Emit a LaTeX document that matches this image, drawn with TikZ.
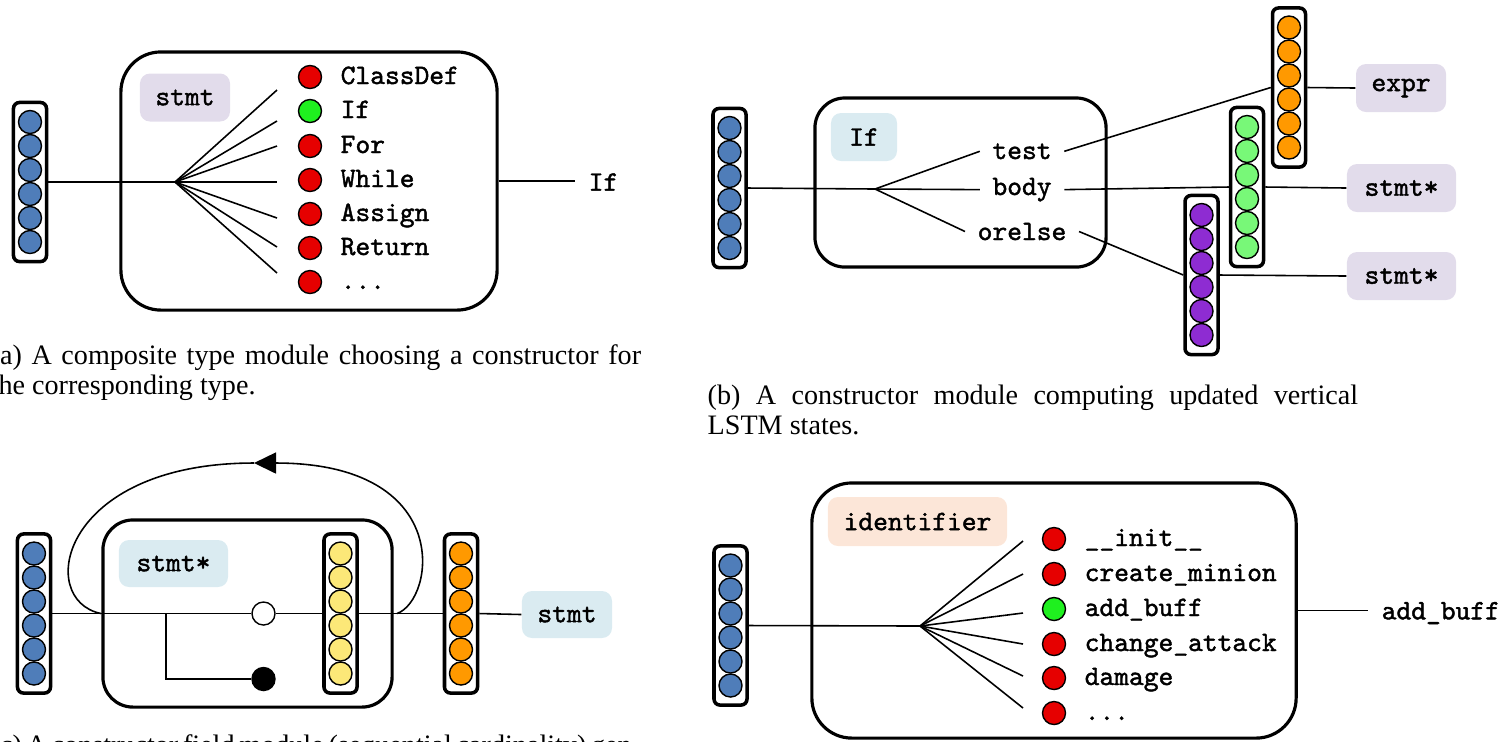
\documentclass[tikz,border=0pt]{standalone}
\usepackage{fontspec}
\setmainfont{Liberation Serif}
\newfontfamily\codefont{lmmono10-regular.otf}[FakeBold=1.5]
\usetikzlibrary{arrows.meta, positioning}

\definecolor{vblue}{HTML}{4F7DB9}
\definecolor{cred}{HTML}{E60000}
\definecolor{cgreen}{HTML}{1FF01F}
\definecolor{corange}{HTML}{FF9900}
\definecolor{clgreen}{HTML}{78F878}
\definecolor{cpurple}{HTML}{8E2CD2}
\definecolor{cyellow}{HTML}{FCE878}
\definecolor{taglav}{HTML}{E2DCEB}
\definecolor{tagblue}{HTML}{DAEBF1}
\definecolor{tagpeach}{HTML}{FCE6D8}

\tikzset{
  module/.style={draw, line width=0.9pt, rounded corners=0.4cm, inner sep=0pt},
  vecbox/.style={draw, line width=1pt, rounded corners=0.06cm, minimum width=0.33cm,
    minimum height=1.59cm, inner sep=0pt},
  unit/.style={circle, draw, line width=0.4pt, minimum size=0.23cm, inner sep=0pt},
  tag/.style={rounded corners=0.1cm, inner sep=0pt, minimum height=0.48cm,
    font=\codefont\fontsize{8}{9}\selectfont},
  word/.style={font=\codefont\fontsize{8}{9}\selectfont, inner sep=0pt},
  field/.style={word, inner xsep=0.12cm, inner ysep=0pt},
  link/.style={line width=0.45pt},
  caption/.style={text width=6.5cm, align=justify, inner sep=0pt,
    font=\fontsize{8}{8.6}\selectfont},
}

% one column of LSTM state units
\newcommand{\lstmcol}[4]{%
  \node[vecbox] (#1) at (#2,#3) {};
  \foreach \k in {0,...,5}
    \node[unit, fill=#4] (#1-\k) at (#2,{#3+(\k-2.5)*24}) {};
}

\begin{document}
\begin{tikzpicture}[x=0.01cm, y=-0.01cm]

  \useasboundingbox (0,0) rectangle (1501,741);

  % ---------- composite type module ----------
  \node[module, minimum width=3.76cm, minimum height=2.58cm] (abox) at (309,181) {};
  \node[tag, fill=taglav, minimum width=0.9cm] (atag) at (185,97.5) {stmt};
  \lstmcol{ablue}{30}{182}{vblue}
  \coordinate (afan) at (175,182);
  \draw[link] (ablue.east) -- (afan);

  \foreach \y/\e/\c/\t [count=\i] in {77/90/cred/ClassDef, 111/121/cgreen/If,
      146/146/cred/For, 180/182/cred/While, 214/218/cred/Assign, 248/247/cred/Return}{
    \coordinate (aend\i) at (277,\e);
    \draw[link] (afan) -- (aend\i);
    \node[unit, fill=\c] (ac\i) at (310,\y) {};
    \node[word, anchor=base west] (al\i) at (340,{\y+7}) {\t};
  }
  \coordinate (aend7) at (277,273);
  \draw[link] (afan) -- (aend7);
  \node[unit, fill=cred] (ac7) at (310,282) {};
  \node[word, anchor=base west] (al7) at (340,289) {...};

  \node[word, anchor=west, inner xsep=0.13cm] (aout) at (575,182) {If};
  \draw[link] (abox.east) -- (abox.east -| aout.west);

  \node[caption, anchor=north west] (acap) at (-10,344)
    {(a) A composite type module choosing a constructor for the corresponding type.};

  % ---------- constructor module ----------
  \node[module, rounded corners=0.3cm, minimum width=2.91cm, minimum height=1.69cm] (bbox) at (960.5,182.5) {};
  \node[tag, fill=tagblue, minimum width=0.66cm] (btag) at (864,137) {If};
  \lstmcol{bblue}{729.5}{188}{vblue}
  \coordinate (bfan) at (875,189);
  \draw[link] (bblue.east) -- (bfan);

  \node[field, anchor=base] (btest) at (1022,159) {test};
  \node[field, anchor=base] (bbody) at (1022,195) {body};
  \node[field, anchor=base] (borelse) at (1022,240) {orelse};
  \draw[link] (bfan) -- (btest.west);
  \draw[link] (bfan) -- (bbody.west);
  \draw[link] (bfan) -- (borelse.west);

  \lstmcol{borange}{1289}{87.5}{corange}
  \lstmcol{bgreen}{1247}{187}{clgreen}
  \lstmcol{bpurple}{1201.5}{275}{cpurple}

  \node[tag, fill=taglav, minimum width=0.9cm] (bexpr) at (1401,88) {expr};
  \node[tag, fill=taglav, minimum width=1.09cm] (bstmta) at (1401.5,188) {stmt*};
  \node[tag, fill=taglav, minimum width=1.09cm] (bstmtb) at (1401.5,276) {stmt*};

  \draw[link] (btest.east) -- (borange.west);
  \draw[link] (bbody.east) -- (bgreen.west);
  \draw[link] (borelse.east) -- (bpurple.west);
  \draw[link] (borange.east) -- (bexpr.west);
  \draw[link] (bgreen.east) -- (bstmta.west);
  \draw[link] (bpurple.east) -- (bstmtb.west);

  \node[caption, anchor=north west] (bcap) at (707,384)
    {(b) A constructor module computing updated vertical LSTM states.};

  % ---------- constructor field module ----------
  \node[module, rounded corners=0.3cm, minimum width=2.89cm, minimum height=1.87cm] (cbox) at (247.5,613.5) {};
  \node[tag, fill=tagblue, minimum width=1.09cm, minimum height=0.47cm] (ctag) at (173.5,563.5) {stmt*};
  \lstmcol{cblue}{34}{613.5}{vblue}
  \lstmcol{cyellow}{340.5}{613.5}{cyellow}
  \lstmcol{corange}{461}{613.5}{corange}
  \node[unit, fill=white] (cgo) at (263.5,613.5) {};
  \node[unit, fill=black] (cstop) at (263.5,679) {};
  \node[tag, fill=tagblue, minimum width=0.9cm, minimum height=0.47cm] (cstmt) at (567,614.5) {stmt};

  \draw[link] (cblue.east) -- (cgo.west);
  \draw[link] (cgo.east) -- (cyellow.west);
  \draw[link] (cyellow.east) -- (corange.west);
  \draw[link] (corange.east) -- (cstmt.west);
  \coordinate (csplit) at (166,613.5);
  \draw[link] (csplit) |- (cstop.west);

  % loop back over the module
  \coordinate (cloopr) at (397,613.5);
  \coordinate (cloopt) at (254,463);
  \coordinate (cloopl) at (101,613.5);
  \draw[link, -{Triangle[length=0.22cm, width=0.21cm]}]
    (cloopr) .. controls (435,600) and (455,463) .. (cloopt);
  \draw[link] (cloopt) .. controls (60,463) and (35,600) .. (cloopl);

  \node[caption, anchor=north west] (ccap) at (-10,734)
    {(c) A constructor field module (sequential cardinality) generating children to populate the field.};

  % ---------- primitive type module ----------
  \node[module, minimum width=4.84cm, minimum height=2.55cm] (dbox) at (1054,610.5) {};
  \node[tag, fill=tagpeach, minimum width=1.79cm, minimum height=0.49cm] (dtag) at (917.5,521.5) {identifier};
  \lstmcol{dblue}{730.5}{625.5}{vblue}
  \coordinate (dfan) at (920,626);
  \draw[link] (dblue.east) -- (dfan);

  \foreach \y/\e/\c/\t [count=\i] in {539/541/cred/\_\_init\_\_, 574/574/cred/create\_minion,
      609/613/cgreen/add\_buff, 644/644/cred/change\_attack, 678/676/cred/damage}{
    \coordinate (dend\i) at (1023,\e);
    \draw[link] (dfan) -- (dend\i);
    \node[unit, fill=\c] (dc\i) at (1054,\y) {};
    \node[word, anchor=base west] (dl\i) at (1084,{\y+7}) {\t};
  }
  \coordinate (dend6) at (1023,708);
  \draw[link] (dfan) -- (dend6);
  \node[unit, fill=cred] (dc6) at (1054,713) {};
  \node[word, anchor=base west] (dl6) at (1084,720) {...};

  \node[word, anchor=west, inner xsep=0.13cm] (dout) at (1368,613) {add\_buff};
  \draw[link] (dbox.east) -- (dbox.east -| dout.west);

\end{tikzpicture}
\end{document}
